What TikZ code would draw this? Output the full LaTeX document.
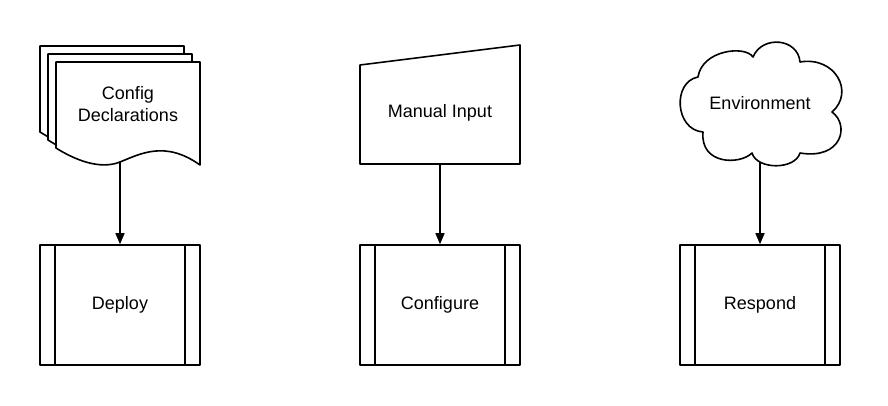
\documentclass[tikz,border=0pt]{standalone}
\usepackage{fontspec}
\setmainfont{Liberation Sans}
\usetikzlibrary{arrows.meta}

\begin{document}
\begin{tikzpicture}[x=1pt,y=-1pt,
  shapeline/.style={line width=1.6pt, line join=round},
  lbl/.style={font=\fontsize{18}{22}\selectfont, align=center},
  procbox/.style={shapeline, draw, fill=white, minimum width=160pt, minimum height=120pt, lbl},
  flow/.style={line width=1.6pt, -{Triangle[length=11pt,width=9pt]}}]

\useasboundingbox (0,0) rectangle (888,406);

% stacked documents
\foreach \d in {16,8,0}
  \draw[shapeline, fill=white, shift={(-\d,-\d)}] (56,62) -- (200,62) -- (200,165)
    .. controls (165,140) and (140,154) .. (120,162)
    .. controls (100,170) and (75,160) .. (56,148) -- cycle;
\node[lbl] (cfgtxt) at (128,104) {Config\\Declarations};
\coordinate (cfgout) at (120,162);

% manual input
\draw[shapeline] (360,65) -- (520,45) -- (520,164) -- (360,164) -- cycle;
\node[lbl] (mantxt) at (440,113) {Manual Input};
\coordinate (manout) at (440,164);

% cloud
\draw[shapeline] (698,77) .. controls (702,50) and (745,45) .. (753,57)
  .. controls (762,35) and (798,38) .. (800,62)
  .. controls (835,56) and (855,92) .. (832,112)
  .. controls (850,125) and (842,160) .. (800,153)
  .. controls (795,170) and (757,170) .. (752,153)
  .. controls (740,165) and (700,165) .. (703,132)
  .. controls (675,130) and (672,82) .. (698,77) -- cycle;
\node[lbl] (envtxt) at (760,103) {Environment};
\coordinate (envout) at (760,162);

% processes
\node[procbox] (deploy) at (120,305) {Deploy};
\node[procbox] (configure) at (440,305) {Configure};
\node[procbox] (respond) at (760,305) {Respond};
\foreach \n in {deploy,configure,respond} {
  \draw[shapeline] ([xshift=16pt]\n.north west) -- ([xshift=16pt]\n.south west);
  \draw[shapeline] ([xshift=-16pt]\n.north east) -- ([xshift=-16pt]\n.south east);
}

\draw[flow] (cfgout) -- (deploy);
\draw[flow] (manout) -- (configure);
\draw[flow] (envout) -- (respond);
\end{tikzpicture}
\end{document}
